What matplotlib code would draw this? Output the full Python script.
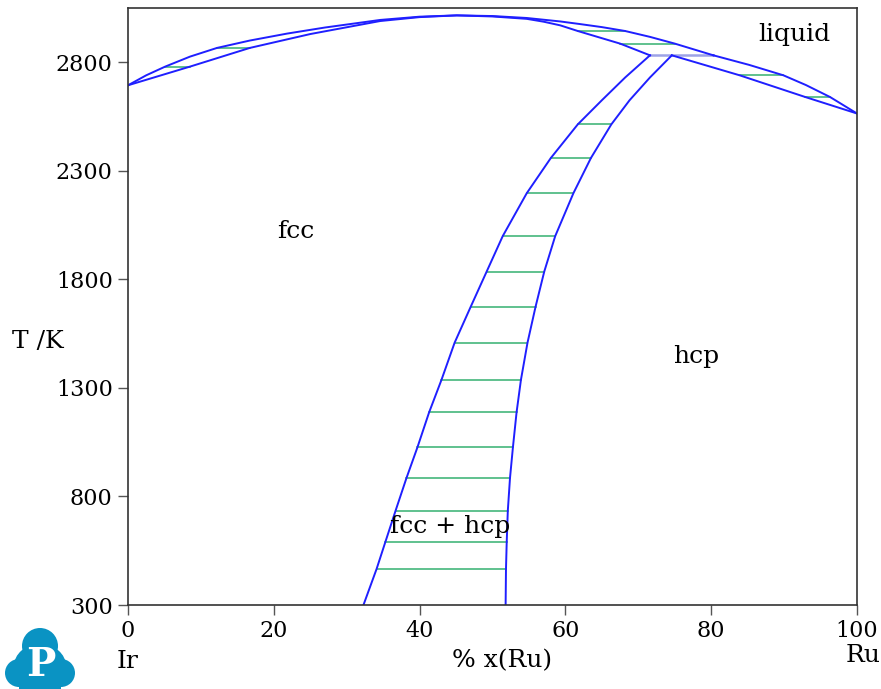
import matplotlib
matplotlib.use("Agg")
import matplotlib.pyplot as plt
from matplotlib.patches import Circle, Ellipse, Rectangle

plt.rcParams['font.family'] = ['DejaVu Serif']

# liquid / fcc two-phase loop (congruent maximum)
liq_fcc_x = [0, 2.5, 5.1, 8.5, 12.2, 16.7, 21.8, 27.0, 34.6, 40.0, 45.1,
             50.0, 54.7, 59.3, 62.0, 65.0, 68.2, 71.6, 75.0, 80.3]
liq_fcc_t = [2694, 2740, 2780, 2826, 2866, 2900, 2932, 2960, 2995, 3010, 3016,
             3013, 3004, 2988, 2976, 2962, 2944, 2917, 2886, 2832]
sol_fcc_x = [0, 8.5, 16.7, 25.0, 34.6, 40.0, 45.1, 50.0, 54.7, 57.0, 59.3,
             61.7, 64.5, 67.5, 71.6]
sol_fcc_t = [2694, 2780, 2866, 2930, 2990, 3008, 3016, 3011, 3000, 2987, 2970,
             2944, 2916, 2886, 2832]

# liquid / hcp
liq_hcp_x = [80.3, 85.2, 89.9, 93.0, 96.3, 100]
liq_hcp_t = [2832, 2788, 2740, 2695, 2640, 2564]
sol_hcp_x = [74.6, 83.9, 92.9, 100]
sol_hcp_t = [2832, 2740, 2640, 2564]

# fcc + hcp boundaries
solv_t = [2832, 2730, 2625, 2514, 2359, 2197, 1999, 1836, 1673, 1508, 1337,
          1187, 1026, 885, 734, 590, 466, 300]
solv_fcc_x = [71.6, 68.2, 65.0, 61.7, 58.0, 54.7, 51.4, 49.2, 47.0, 44.8,
              43.0, 41.3, 39.7, 38.2, 36.7, 35.3, 34.1, 32.3]
solv_hcp_x = [74.6, 71.6, 68.8, 66.3, 63.5, 61.1, 58.6, 57.1, 55.9, 54.8,
              53.9, 53.3, 52.8, 52.4, 52.1, 51.95, 51.85, 51.8]

# tie lines in the liquid two-phase fields: (T, x_left, x_right)
ties_liq = [(2780, 5.1, 8.5), (2866, 12.2, 16.7), (2944, 61.7, 68.2),
            (2886, 67.5, 75.0), (2740, 83.9, 89.9), (2640, 92.9, 96.3)]
peritectic = (2832, 71.6, 80.3)

blue = '#1f1fff'
green = '#34b070'

fig = plt.figure(figsize=(8.81, 6.89), dpi=100)
ax = fig.add_axes([128 / 881, 84 / 689, 729 / 881, 597 / 689])

for xs, ts in [(liq_fcc_x, liq_fcc_t), (sol_fcc_x, sol_fcc_t),
               (liq_hcp_x, liq_hcp_t), (sol_hcp_x, sol_hcp_t),
               (solv_fcc_x, solv_t), (solv_hcp_x, solv_t)]:
    ax.plot(xs, ts, color=blue, lw=1.4, solid_joinstyle='round')

# tie lines of the solid two-phase region (skip the top points and bottom edge)
for t, xl, xr in zip(solv_t[3:-1], solv_fcc_x[3:-1], solv_hcp_x[3:-1]):
    ax.plot([xl, xr], [t, t], color=green, lw=1.1, zorder=1)
for t, xl, xr in ties_liq:
    ax.plot([xl, xr], [t, t], color=green, lw=1.1, zorder=1)
ax.plot([peritectic[1], peritectic[2]], [peritectic[0]] * 2,
        color='#9da3e6', lw=1.8, zorder=1)

ax.set_xlim(0, 100)
ax.set_ylim(300, 3050)
ax.set_xticks([0, 20, 40, 60, 80, 100])
ax.set_yticks([300, 800, 1300, 1800, 2300, 2800])
ax.tick_params(direction='out', length=7, width=1, color='#555555',
               labelsize=16, pad=4)
for s in ax.spines.values():
    s.set_color('#333333')
    s.set_linewidth(1.2)


def px(x, y):
    return x / 881, 1 - y / 689


fs = 18
fig.text(*px(794, 34), 'liquid', fontsize=fs, ha='center', va='center')
fig.text(*px(296, 232), 'fcc', fontsize=fs, ha='center', va='center')
fig.text(*px(696, 356), 'hcp', fontsize=fs, ha='center', va='center')
fig.text(*px(450, 527), 'fcc + hcp', fontsize=fs, ha='center', va='center')
fig.text(*px(38, 342), 'T /K', fontsize=fs, ha='center', va='center')
fig.text(*px(128, 661), 'Ir', fontsize=fs, ha='center', va='center')
fig.text(*px(863, 656), 'Ru', fontsize=fs, ha='center', va='center')
fig.text(*px(502, 661), '% x(Ru)', fontsize=fs, ha='center', va='center')

# logo
lax = fig.add_axes([0, 0, 80 / 881, 70 / 689])
lax.set_xlim(0, 80)
lax.set_ylim(689, 619)
lax.axis('off')
logo = '#0a93c3'
for c in [Circle((40, 646), 18), Circle((19, 673), 14), Circle((61, 673), 14),
          Ellipse((40, 666), 52, 44), Rectangle((19, 672), 42, 17)]:
    c.set_facecolor(logo)
    c.set_edgecolor('none')
    lax.add_patch(c)
lax.text(41, 665, 'P', color='white', fontsize=28, fontweight='bold',
         ha='center', va='center')

fig.savefig('out.png', dpi=100)
